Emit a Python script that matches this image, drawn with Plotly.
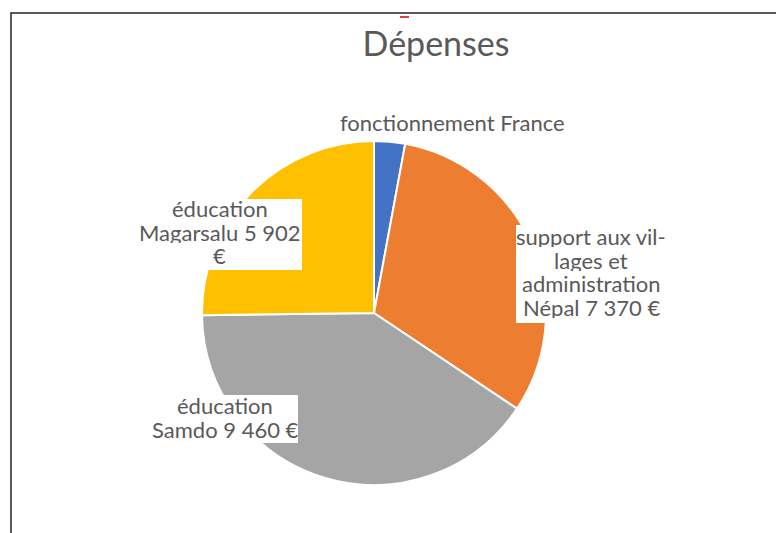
import plotly.graph_objects as go

# données
postes = ["fonctionnement France", "support aux villages et administration Népal",
          "éducation Samdo", "éducation Magarsalu"]
montants = [680, 7370, 9460, 5902]
couleurs = ["#4472C4", "#ED7D31", "#A5A5A5", "#FFC000"]

# textes des étiquettes, ligne par ligne (coupures comme sur l'original)
lignes_etiq = [
    ["fonctionnement France"],
    ["support aux vil-", "lages et", "administration", "Népal 7 370 €"],
    ["éducation", "Samdo 9 460 €"],
    ["éducation", "Magarsalu 5 902", "€"],
]

# la page ajoute une marge de 8 px autour de la figure
OFF = 8
W, H = 784 - OFF, 533 - OFF


def px(x):
    return (x - OFF) / W


def py(y):
    return 1 - (y - OFF) / H


# mise en page des étiquettes (pixels de l'image de référence)
centre_etiq = [(452, 122), (591, 236), (225, 405), (220, 208)]
boite_etiq = [None, (516, 225, 672, 323), (148, 395, 298, 443), (136, 199, 302, 270)]
interligne = 23.5

cx, cy, r = 374, 313, 172

fig = go.Figure()
fig.add_trace(go.Pie(
    labels=postes,
    values=montants,
    marker=dict(colors=couleurs, line=dict(color="white", width=2)),
    sort=False,
    direction="clockwise",
    rotation=0,
    textinfo="none",
    hoverinfo="label+value",
    domain=dict(x=[px(cx - r), px(cx + r)], y=[py(cy + r), py(cy - r)]),
    showlegend=False,
))

for lignes, (x, y0), boite in zip(lignes_etiq, centre_etiq, boite_etiq):
    if boite:
        fig.add_shape(type="rect", xref="paper", yref="paper",
                      x0=px(boite[0]), x1=px(boite[2]), y0=py(boite[3]), y1=py(boite[1]),
                      fillcolor="white", line=dict(width=0))
    for i, ligne in enumerate(lignes):
        fig.add_annotation(
            x=px(x), y=py(y0 + i * interligne), xref="paper", yref="paper",
            xanchor="center", yanchor="middle", height=22,
            text=ligne, showarrow=False,
            font=dict(family="Lato", size=22, color="#595959"),
        )

# cadre et petit trait rouge
fig.add_shape(type="rect", xref="paper", yref="paper",
              x0=px(11), x1=1.05, y0=-0.05, y1=py(13),
              line=dict(color="#222222", width=1.5))
fig.add_shape(type="line", xref="paper", yref="paper",
              x0=px(400), x1=px(409), y0=py(17), y1=py(17),
              line=dict(color="#D00000", width=1.5))

fig.update_layout(
    width=W, height=H,
    margin=dict(l=0, r=0, t=0, b=0),
    paper_bgcolor="white",
    title=dict(text="Dépenses", x=px(436), xanchor="center", y=py(44), yanchor="middle",
               font=dict(family="Lato", size=34, color="#595959")),
)

fig.write_html("out.html")
